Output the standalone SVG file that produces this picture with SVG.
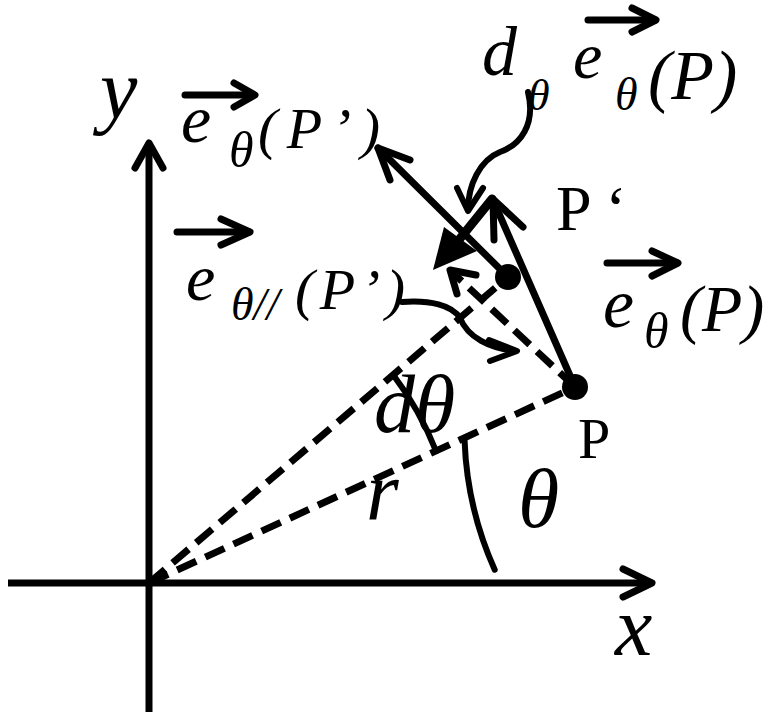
<svg xmlns="http://www.w3.org/2000/svg" width="768" height="716" viewBox="0 0 768 716">
<style>
.ln{stroke:#000;stroke-width:7;fill:none;stroke-linecap:round;stroke-linejoin:round}
.ax{stroke:#000;stroke-width:7;fill:none}
.ds{stroke:#000;stroke-width:7;fill:none;stroke-dasharray:21 10}
.cv{stroke:#000;stroke-width:6;fill:none;stroke-linecap:round;stroke-linejoin:round}
.m{font-family:"Liberation Serif","Times New Roman",serif;font-style:italic;fill:#000}
.u{font-family:"Liberation Serif","Times New Roman",serif;fill:#000}
</style>
<rect width="768" height="716" fill="#fff"/>
<g id="axes">
<line class="ax" x1="8" y1="583" x2="650" y2="583"/>
<polyline class="ln" points="623,569 652,583 623,597"/>
<line class="ax" x1="149" y1="712" x2="149" y2="146"/>
<polyline class="ln" points="135,168 149,143 163,168"/>
<text class="m" x="100" y="118" font-size="84">y</text>
<text class="m" x="615" y="655" font-size="84">x</text>
</g>
<g id="connectors">
<line class="ds" x1="149" y1="583" x2="575" y2="387"/>
<line class="ds" x1="149" y1="583" x2="508" y2="277"/>
<line class="ds" x1="575" y1="387" x2="452" y2="272"/>
<polyline class="ln" points="457,294 450,270 476,275"/>
<line class="ln" x1="575" y1="387" x2="493" y2="200"/>
<polyline class="ln" points="494,240 493,199 523,227"/>
<line class="ln" x1="508" y1="277" x2="378" y2="148"/>
<polyline class="ln" points="410,160 378,148 390,180"/>
<line stroke="#000" stroke-width="9" stroke-linecap="round" x1="492" y1="199" x2="458" y2="241"/>
<polygon points="433,270 444,227 477,251" fill="#000"/>
<path class="cv" d="M464.6,441.1 A346,346 0 0 0 494.7,569.7"/>
<path class="cv" d="M436,451 A316,316 0 0 0 394,376"/>
<path class="cv" d="M528,92 C536,125 520,145 500,152 C480,160 468,185 468,210"/>
<polyline class="cv" points="457,188 468,211 483,188"/>
<path class="cv" d="M402,302 C430,300 452,305 460,318 C468,338 490,348 515,351"/>
<polyline class="cv" points="489,340 517,351 490,361"/>
</g>
<g id="P">
<circle cx="575" cy="387" r="13" fill="#000"/>
<text class="u" x="578" y="458" font-size="58">P</text>
</g>
<g id="Pprime">
<circle cx="508" cy="277" r="13" fill="#000"/>
<text class="u" x="556" y="230" font-size="64">P ‘</text>
</g>
<g id="angles">
<text class="m" x="374" y="432" font-size="82">dθ</text>
<text class="m" x="518" y="527" font-size="84">θ</text>
<text class="m" x="366" y="520" font-size="84">r</text>
</g>
<g id="label-de">
<line class="ln" stroke-width="8" x1="588" y1="20" x2="655" y2="20"/>
<polyline class="ln" points="632,8 656,20 632,32"/>
<text class="m" x="482" y="75" font-size="70">d</text>
<text class="m" x="528" y="110" font-size="44">θ</text>
<text class="m" x="573" y="78" font-size="66">e</text>
<text class="m" x="615" y="110" font-size="46">θ</text>
<text class="m" x="648" y="99" font-size="70">(P)</text>
</g>
<g id="label-eP">
<line class="ln" x1="607" y1="263" x2="677" y2="263"/>
<polyline class="ln" points="652,251 678,263 652,276"/>
<text class="m" x="603" y="327" font-size="70">e</text>
<text class="m" x="644" y="348" font-size="50">θ</text>
<text class="m" x="680" y="331" font-size="66">(P)</text>
</g>
<g id="label-ePp">
<line class="ln" x1="185" y1="95" x2="254" y2="95"/>
<polyline class="ln" points="234,83 255,95 234,107"/>
<text class="m" x="181" y="142" font-size="68">e</text>
<text class="m" x="229" y="167" font-size="50">θ</text>
<text class="m" x="258" y="148" font-size="58" textLength="122" lengthAdjust="spacing">(P’)</text>
</g>
<g id="label-epar">
<line class="ln" x1="177" y1="232" x2="249" y2="232"/>
<polyline class="ln" points="221,219 250,232 221,245"/>
<text class="m" x="186" y="300" font-size="66">e</text>
<text class="m" x="231" y="320" font-size="46">θ//</text>
<text class="m" x="295" y="309" font-size="58" textLength="110" lengthAdjust="spacing">(P’)</text>
</g>
</svg>
